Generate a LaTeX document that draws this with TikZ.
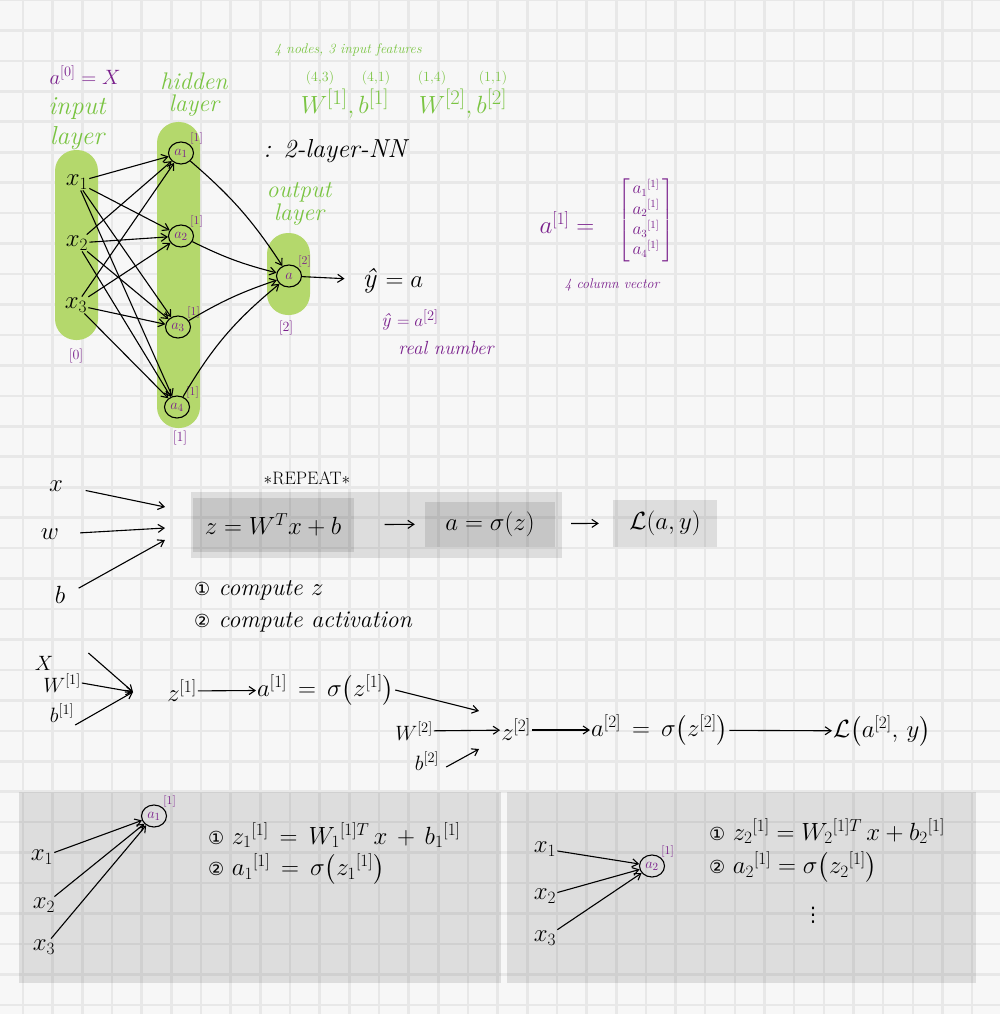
\documentclass[tikz,border=0pt]{standalone}
\usepackage{amsmath}
\usepackage{fontspec}
\usetikzlibrary{arrows.meta,shapes.geometric}
\newfontfamily\symfont{DejaVu Sans}
\definecolor{paper}{RGB}{247,247,247}
\definecolor{gridgray}{RGB}{232,232,232}
\definecolor{hlgreen}{RGB}{180,216,108}
\definecolor{penGreen}{RGB}{122,196,66}
\definecolor{penPurple}{RGB}{122,32,140}
\newcommand{\fsz}[1]{\fontsize{#1}{#1}\selectfont}
\newcommand{\numA}{{\symfont\fontsize{18}{18}\selectfont ①}}
\newcommand{\numB}{{\symfont\fontsize{18}{18}\selectfont ②}}

\begin{document}
\begin{tikzpicture}[x=1pt,y=-1pt,inner sep=1pt,
gridline/.style={draw=gridgray,line width=2.6pt},
pill/.style={fill=hlgreen,rounded corners=21pt},
shade/.style={fill=black,fill opacity=.1},
calcbox/.style={fill=black,fill opacity=.1,text opacity=1,font=\fsz{26}},
unit/.style={draw,ellipse,line width=1.1pt,minimum width=25pt,minimum height=22pt,inner sep=0pt,text=penPurple,font=\fsz{15}},
sup/.style={text=penPurple,font=\fsz{12},inner sep=0pt},
pnote/.style={text=penPurple},
gnote/.style={text=penGreen},
wire/.style={-{Straight Barb[length=6pt,width=8pt]},line width=1.1pt}]
\fill[paper] (0,0) rectangle (1000,1014);
\useasboundingbox (0,0) rectangle (1000,1014);
\foreach \i in {0,...,33} \draw[gridline] ({23+\i*29.66},0) -- ++(0,1014);
\foreach \j in {0,...,33} \draw[gridline] (0,{\j*30.45}) -- ++(1000,0);

\fill[pill] (55,150) rectangle (98,340);
\fill[pill] (157,122) rectangle (200,428);
\fill[pill] (267,233) rectangle (310,315);
\fill[shade] (191,492) rectangle (562,558);
\fill[shade] (19,792) rectangle (501,983);
\fill[shade] (507,792) rectangle (976,983);

\node[pnote,font=\fsz{22}] (a0) at (85,75) {$a^{[0]} = X$};
\node[gnote,font=\fontsize{26}{30}\selectfont\itshape,align=center] (inlbl) at (77,124) {input\\layer};
\node[gnote,font=\fontsize{24}{22}\selectfont\itshape,align=center] (hidlbl) at (194,95) {hidden\\layer};
\node[gnote,font=\fontsize{24}{23}\selectfont\itshape,align=center] (outlbl) at (299,204) {output\\layer};
\node[gnote,font=\fsz{14}\itshape] (feat) at (348,50) {4 nodes, 3 input features};
\node[gnote,font=\fsz{14}] (d1) at (320,78) {(4,3)};
\node[gnote,font=\fsz{14}] (d2) at (376,78) {(4,1)};
\node[gnote,font=\fsz{14}] (d3) at (432,78) {(1,4)};
\node[gnote,font=\fsz{14}] (d4) at (493,78) {(1,1)};
\node[gnote,font=\fsz{28}] (wb1) at (345,104) {$W^{[1]}, b^{[1]}$};
\node[gnote,font=\fsz{28}] (wb2) at (463,104) {$W^{[2]}, b^{[2]}$};
\node[font=\fsz{26}\itshape] (title) at (335,151) {: 2-layer-NN};

\node[font=\fsz{26}] (x1) at (77,182) {$x_1$};
\node[font=\fsz{26}] (x2) at (77,243) {$x_2$};
\node[font=\fsz{26}] (x3) at (76,305) {$x_3$};
\node[unit,label={[sup]north east:{[1]}}] (h1) at (181,153) {$a_1$};
\node[unit,label={[sup]north east:{[1]}}] (h2) at (181,236) {$a_2$};
\node[unit,label={[sup]north east:{[1]}}] (h3) at (178,327) {$a_3$};
\node[unit,label={[sup]north east:{[1]}}] (h4) at (177,407) {$a_4$};
\node[unit,label={[sup]north east:{[2]}}] (out) at (289,276) {$a$};
\node[pnote,font=\fsz{14}] (lay0) at (76,356) {[0]};
\node[pnote,font=\fsz{14}] (lay1) at (180,438) {[1]};
\node[pnote,font=\fsz{14}] (lay2) at (286,328) {[2]};
\node[font=\fsz{28},inner sep=0pt] (yhat) at (393,281) {\textit{ŷ} $= a$};
\node[pnote,font=\fsz{19},inner sep=0pt] (yhat2) at (410,320) {\textit{ŷ} $= a^{[2]}$};
\node[pnote,font=\fsz{19}\itshape,inner sep=0pt] (realnum) at (446,348) {real number};
\foreach \i in {1,2,3}
  \foreach \j in {1,...,4}
    \draw[wire] (x\i) -- (h\j);
\draw[wire] (h1) to[bend left=8] (out);
\draw[wire] (h2) to[bend right=6] (out);
\draw[wire] (h3) to[bend left=6] (out);
\draw[wire] (h4) to[bend left=10] (out);
\draw[wire,shorten >=18pt] (out) -- (yhat);

\node[pnote,font=\fsz{24}] (avec) at (567,223) {$a^{[1]} =$};
\node[pnote,font=\fontsize{16}{20}\selectfont] (avecm) at (646,220) {$\begin{bmatrix}\,a_1{}^{[1]}\,\\\,a_2{}^{[1]}\,\\\,a_3{}^{[1]}\,\\\,a_4{}^{[1]}\,\end{bmatrix}$};
\node[pnote,font=\fsz{14}\itshape] (colvec) at (612,285) {4 column vector};

\node[font=\fsz{18}] (rep) at (307,478) {$\ast$REPEAT$\ast$};
\node[font=\fsz{26}] (inx) at (56,486) {$x$};
\node[font=\fsz{26}] (inw) at (50,534) {$w$};
\node[font=\fsz{26}] (inb) at (60,595) {$b$};
\coordinate (tx) at (165,507);
\coordinate (tw) at (165,528);
\coordinate (tb) at (165,540);
\draw[wire,shorten <=22pt] (inx.east) -- (tx);
\draw[wire,shorten <=20pt] (inw.east) -- (tw);
\draw[wire,shorten <=14pt] (inb.east) -- (tb);
\node[calcbox,minimum width=161pt,minimum height=54pt] (zbox) at (273,525) {$z = W^{T}x + b$};
\node[calcbox,minimum width=130pt,minimum height=45pt] (abox) at (490,524) {$a = \sigma(z)$};
\node[calcbox,minimum width=104pt,minimum height=47pt] (lbox) at (665,523) {$\mathcal{L}(a, y)$};
\draw[wire,shorten <=31pt,shorten >=10pt] (zbox) -- (abox);
\draw[wire,shorten <=16pt,shorten >=14pt] (abox) -- (lbox);
\node[font=\fsz{24}\itshape,anchor=west] (step1) at (193,590) {\numA\ compute $z$};
\node[font=\fsz{24}\itshape,anchor=west] (step2) at (193,622) {\numB\ compute activation};

\node[font=\fsz{22}] (X) at (44,663) {$X$};
\node[font=\fsz{22}] (W1) at (62,683) {$W^{[1]}$};
\node[font=\fsz{22}] (b1) at (62,713) {$b^{[1]}$};
\coordinate (j1) at (133,692);
\node[font=\fsz{25}] (z1) at (182,691) {$z^{[1]}$};
\node[font=\fsz{25},anchor=west] (a1eq) at (256,690) {$a^{[1]} \,=\, \sigma\bigl(z^{[1]}\bigr)$};
\coordinate (j2) at (479,711);
\node[font=\fsz{22}] (W2) at (414,731) {$W^{[2]}$};
\node[font=\fsz{22}] (b2) at (427,761) {$b^{[2]}$};
\coordinate (j3) at (479,749);
\node[font=\fsz{25}] (z2) at (516,730) {$z^{[2]}$};
\node[font=\fsz{25},anchor=west] (a2eq) at (590,730) {$a^{[2]} \,=\, \sigma\bigl(z^{[2]}\bigr)$};
\node[font=\fsz{25},anchor=west] (loss2) at (832,731) {$\mathcal{L}\bigl(a^{[2]},\, y\bigr)$};
\draw[wire] ([xshift=34pt,yshift=10pt]X.east) -- (j1);
\draw[wire] (W1.east) -- (j1);
\draw[wire] ([yshift=-12pt]b1.east) -- (j1);
\draw[wire] (z1) -- (a1eq);
\draw[wire] (a1eq.east) -- (j2);
\draw[wire] (W2) -- (z2);
\draw[wire] ([xshift=6pt,yshift=-6pt]b2.east) -- (j3);
\draw[wire] (z2) -- (a2eq);
\draw[wire] (a2eq) -- (loss2);

\node[unit,label={[sup]north east:{[1]}}] (n1) at (154,816) {$a_1$};
\node[font=\fsz{26}] (bx1) at (42,857) {$x_1$};
\node[font=\fsz{26}] (bx2) at (44,905) {$x_2$};
\node[font=\fsz{26}] (bx3) at (44,947) {$x_3$};
\foreach \i in {1,2,3} \draw[wire] (bx\i) -- (n1);
\node[font=\fsz{25},anchor=west] (eqA1) at (207,835) {\numA\ $z_1{}^{[1]} \,=\, W_1{}^{[1]T}\,x \,+\, b_1{}^{[1]}$};
\node[font=\fsz{25},anchor=west] (eqA2) at (207,869) {\numB\ $a_1{}^{[1]} \,=\, \sigma\bigl(z_1{}^{[1]}\bigr)$};

\node[unit,label={[sup]north east:{[1]}}] (n2) at (652,866) {$a_2$};
\node[font=\fsz{26}] (rx1) at (545,849) {$x_1$};
\node[font=\fsz{26}] (rx2) at (545,896) {$x_2$};
\node[font=\fsz{26}] (rx3) at (545,938) {$x_3$};
\foreach \i in {1,2,3} \draw[wire] (rx\i) -- (n2);
\node[font=\fsz{25},anchor=west] (eqB1) at (708,831) {\numA\ $z_2{}^{[1]} = W_2{}^{[1]T}\,x + b_2{}^{[1]}$};
\node[font=\fsz{25},anchor=west] (eqB2) at (708,867) {\numB\ $a_2{}^{[1]} = \sigma\bigl(z_2{}^{[1]}\bigr)$};
\node[font=\fsz{20},inner sep=0pt] (vdots) at (813,915) {{\symfont ⋮}};
\end{tikzpicture}
\end{document}
